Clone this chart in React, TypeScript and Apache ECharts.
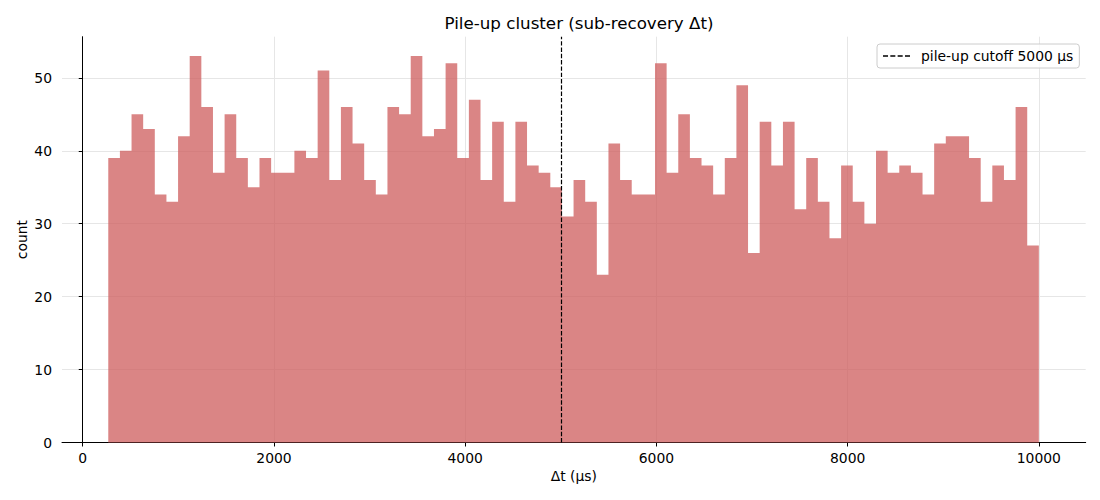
import React, { useEffect, useRef } from "react";
import * as echarts from "echarts";

// Histogram counts per bin (80 equal-width bins)
const COUNTS: number[] = [
  39, 40, 45, 43, 34, 33, 42, 53, 46, 37, 45, 39, 35, 39, 37, 37, 40, 39, 51, 36,
  46, 41, 36, 34, 46, 45, 53, 42, 43, 52, 39, 47, 36, 44, 33, 44, 38, 37, 35, 31,
  36, 33, 23, 41, 36, 34, 34, 52, 37, 45, 39, 38, 34, 39, 49, 26, 44, 38, 44, 32,
  39, 33, 28, 38, 33, 30, 40, 37, 38, 37, 34, 41, 42, 42, 39, 33, 38, 36, 46, 27,
];
const BIN_START = 267;
const BIN_END = 10000;
const X_TICKS: number[] = [0, 2000, 4000, 6000, 8000, 10000];
const Y_TICKS: number[] = [0, 10, 20, 30, 40, 50];
const CUTOFF = 5000;
const CUTOFF_LABEL = "pile-up cutoff 5000 μs";
const TITLE = "Pile-up cluster (sub-recovery Δt)";
const X_NAME = "Δt (μs)";
const Y_NAME = "count";

const X_MIN = -217;
const X_MAX = 10490;
const Y_MAX = 55.65;

export default function App() {
  const ref = useRef<HTMLDivElement>(null);

  useEffect(() => {
    if (!ref.current) return;
    const chart = echarts.init(ref.current, undefined, { renderer: "svg" });
    const n = COUNTS.length;
    const w = (BIN_END - BIN_START) / n;
    const bins = COUNTS.map((c, i) => [BIN_START + i * w, BIN_START + (i + 1) * w, c]);
    const font = "DejaVu Sans";
    const dash = [4.4, 1.9];
    const fs = 13.9;
    const dashIcon =
      "path://M0,0h5v1.3h-5z M7.3,0h5v1.3h-5z M14.6,0h5v1.3h-5z M21.9,0h5v1.3h-5z";

    chart.setOption({
      animation: false,
      textStyle: { fontFamily: font, color: "#000" },
      title: {
        text: TITLE,
        left: 574,
        textAlign: "center",
        top: 9,
        textStyle: { fontFamily: font, fontSize: 16.7, fontWeight: "normal", color: "#000" },
      },
      grid: { left: 62, right: 14.3, top: 36.7, bottom: 57.5, containLabel: false },
      legend: {
        left: 877,
        top: 44,
        padding: [5, 6, 5, 6],
        itemWidth: 27,
        itemHeight: 14,
        itemGap: 0,
        borderColor: "#cccccc",
        borderWidth: 1,
        borderRadius: 3,
        backgroundColor: "rgba(255,255,255,0.8)",
        textStyle: { fontFamily: font, fontSize: fs, color: "#000", padding: [0, 0, 0, 6] },
        data: [{ name: CUTOFF_LABEL, icon: dashIcon, itemStyle: { color: "#000" } }],
      },
      xAxis: {
        type: "value",
        min: X_MIN,
        max: X_MAX,
        name: X_NAME,
        nameLocation: "middle",
        nameGap: 26,
        nameMoveOverlap: false,
        nameTextStyle: { fontFamily: font, fontSize: fs, color: "#000" },
        axisLine: { show: true, onZero: false, lineStyle: { color: "#000", width: 1 } },
        axisTick: { show: true, length: 4, lineStyle: { color: "#000" }, customValues: X_TICKS },
        axisLabel: {
          fontFamily: font,
          fontSize: fs,
          color: "#000",
          margin: 8,
          customValues: X_TICKS,
          formatter: (v: number) => String(v),
        },
        splitLine: { show: true, lineStyle: { color: "#e6e6e6", width: 1 }, customValues: X_TICKS },
      },
      yAxis: {
        type: "value",
        min: 0,
        max: Y_MAX,
        name: Y_NAME,
        nameLocation: "middle",
        nameGap: 33,
        nameMoveOverlap: false,
        nameTextStyle: { fontFamily: font, fontSize: fs, color: "#000" },
        axisLine: { show: true, lineStyle: { color: "#000", width: 1 } },
        axisTick: { show: true, length: 4, lineStyle: { color: "#000" }, customValues: Y_TICKS },
        axisLabel: {
          fontFamily: font,
          fontSize: fs,
          color: "#000",
          margin: 10,
          customValues: Y_TICKS,
          formatter: (v: number) => String(v),
        },
        splitLine: { show: true, lineStyle: { color: "#e6e6e6", width: 1 }, customValues: Y_TICKS },
      },
      series: [
        {
          type: "custom",
          name: "histogram",
          data: bins,
          encode: { x: [0, 1], y: 2 },
          renderItem: (params: any, api: any) => {
            // Draw the whole histogram as one step polygon (no seams between bins)
            if (params.dataIndex !== 0) return null;
            const pts: number[][] = [];
            pts.push(api.coord([bins[0][0], 0]));
            for (const b of bins) {
              pts.push(api.coord([b[0], b[2]]));
              pts.push(api.coord([b[1], b[2]]));
            }
            pts.push(api.coord([bins[bins.length - 1][1], 0]));
            return {
              type: "polygon",
              shape: { points: pts },
              style: { fill: "#cd5c5c", opacity: 0.75 },
            };
          },
        },
        {
          type: "line",
          name: CUTOFF_LABEL,
          data: [],
          symbol: "none",
          lineStyle: { color: "#000", width: 1.2, type: dash },
          itemStyle: { color: "#000" },
          markLine: {
            silent: true,
            symbol: "none",
            label: { show: false },
            lineStyle: { color: "#000", width: 1.2, type: dash },
            data: [{ xAxis: CUTOFF }],
          },
        },
      ],
    });

    return () => chart.dispose();
  }, []);

  return (
    <div
      ref={ref}
      style={{ position: "absolute", left: 0, top: 0, width: 1100, height: 500, background: "#fff" }}
    />
  );
}
